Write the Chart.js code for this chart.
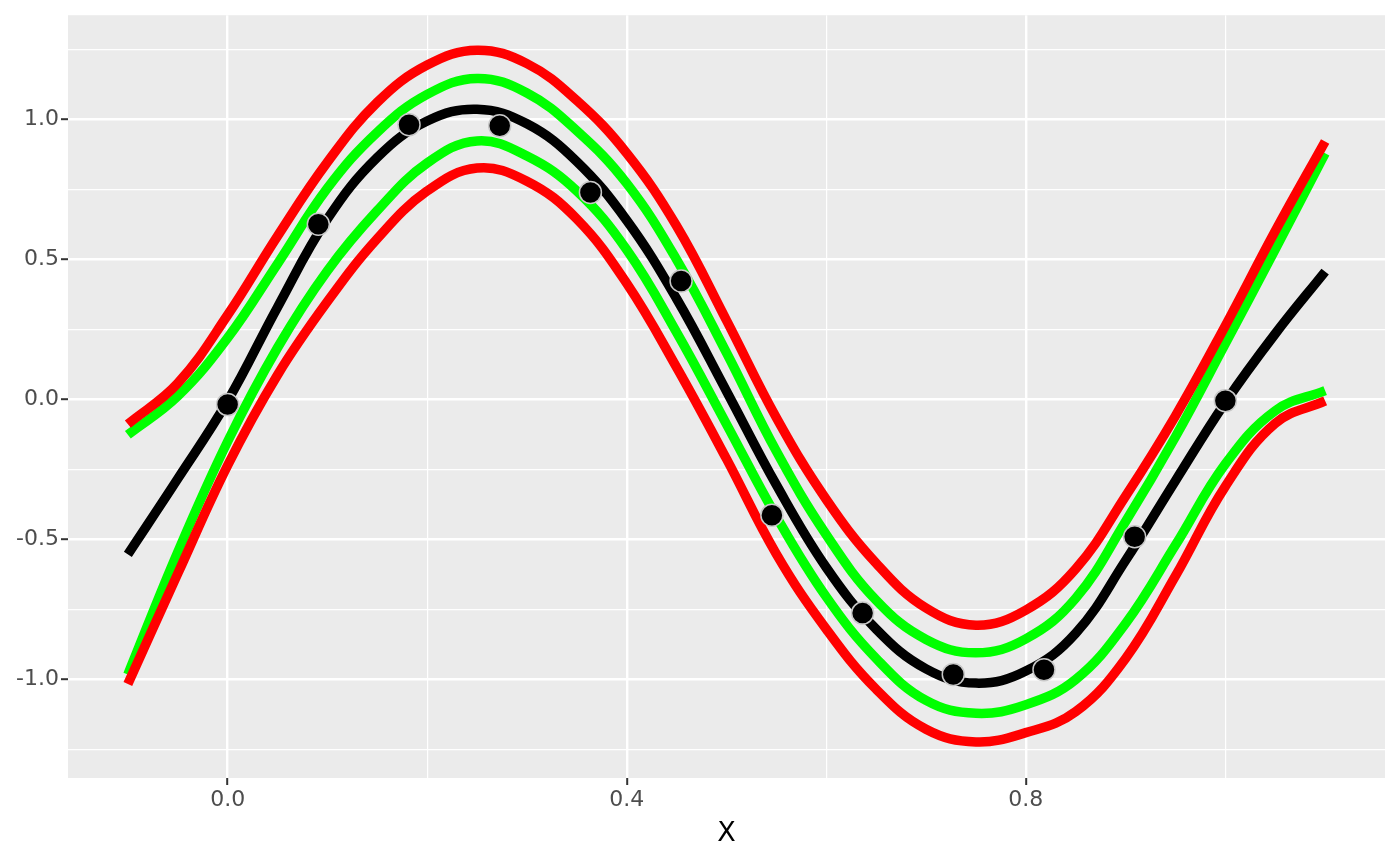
<!DOCTYPE html>
<html>
<head>
<meta charset="utf-8">
<title>Fit with bands</title>
<script src="https://cdn.jsdelivr.net/npm/chart.js@4.4.1/dist/chart.umd.min.js"></script>
<style>
  html, body { margin: 0; padding: 0; background: #ffffff; }
  canvas { display: block; }
</style>
</head>
<body>
<canvas id="fitChart" width="1400" height="866"></canvas>
<script>
// sample positions along the curves
const lineX = [-0.1, -0.05, 0, 0.05, 0.1, 0.15, 0.2, 0.25, 0.3, 0.35, 0.4, 0.45, 0.5,
               0.55, 0.6, 0.65, 0.7, 0.75, 0.8, 0.85, 0.9, 0.95, 1.0, 1.05, 1.1];

// black fitted curve
const fitY = [-0.553, -0.283, -0.005, 0.33, 0.645, 0.865, 0.995, 1.037, 0.985, 0.85, 0.64, 0.36, 0.03,
              -0.305, -0.6, -0.82, -0.962, -1.013, -0.97, -0.835, -0.575, -0.29, -0.01, 0.235, 0.457];

// green band
const greenUpperY = [-0.126, 0.012, 0.22, 0.485, 0.755, 0.955, 1.09, 1.147, 1.095, 0.96, 0.772, 0.5, 0.167,
                     -0.185, -0.483, -0.717, -0.857, -0.905, -0.855, -0.71, -0.436, -0.133, 0.2, 0.537, 0.88];
const greenLowerY = [-0.982, -0.545, -0.15, 0.185, 0.46, 0.675, 0.845, 0.924, 0.87, 0.745, 0.535, 0.24, -0.088,
                     -0.418, -0.705, -0.925, -1.075, -1.121, -1.09, -1.0, -0.8, -0.52, -0.23, -0.04, 0.032];

// red band
const redUpperY = [-0.088, 0.058, 0.302, 0.584, 0.848, 1.062, 1.195, 1.248, 1.2, 1.068, 0.88, 0.62, 0.283,
                   -0.065, -0.357, -0.585, -0.745, -0.806, -0.752, -0.605, -0.345, -0.058, 0.264, 0.602, 0.922];
const redLowerY = [-1.016, -0.622, -0.235, 0.088, 0.35, 0.575, 0.745, 0.827, 0.78, 0.645, 0.415, 0.115, -0.212,
                   -0.552, -0.82, -1.035, -1.178, -1.223, -1.19, -1.115, -0.925, -0.63, -0.31, -0.085, -0.005];

// observations
const pointX = [0, 0.0909, 0.1818, 0.2727, 0.3636, 0.4545, 0.5455, 0.6364, 0.7273, 0.8182, 0.9091, 1.0];
const pointY = [-0.018, 0.626, 0.982, 0.978, 0.74, 0.4235, -0.413, -0.763, -0.982, -0.965, -0.49, -0.004];

// axis breaks
const xMajor = [0, 0.4, 0.8];
const xMinor = [0.2, 0.6, 1.0];
const yMajor = [-1.0, -0.5, 0, 0.5, 1.0];
const yMinor = [-1.25, -0.75, -0.25, 0.25, 0.75, 1.25];

function pairs(xs, ys) {
    return xs.map((x, i) => ({ x: x, y: ys[i] }));
}

function breaks(major, minor) {
    return major.concat(minor).sort((a, b) => a - b).map(v => ({ value: v }));
}

const panelBackground = {
    id: 'panelBackground',
    beforeDraw(chart) {
        const { ctx, chartArea } = chart;
        ctx.save();
        ctx.fillStyle = '#EBEBEB';
        ctx.fillRect(chartArea.left, chartArea.top,
                     chartArea.right - chartArea.left, chartArea.bottom - chartArea.top);
        ctx.restore();
    }
};

function curve(label, ys, color) {
    return {
        label: label,
        data: pairs(lineX, ys),
        borderColor: color,
        borderWidth: 9.5,
        pointRadius: 0,
        fill: false,
        tension: 0.4
    };
}

function gridFor(major) {
    return {
        color: '#FFFFFF',
        lineWidth: ctx => major.includes(ctx.tick.value) ? 2.4 : 1.2,
        tickLength: 7,
        tickWidth: 2,
        tickColor: ctx => major.includes(ctx.tick.value) ? '#333333' : 'rgba(0,0,0,0)'
    };
}

const tickFont = { family: 'DejaVu Sans', size: 22 };

new Chart(document.getElementById('fitChart'), {
    type: 'line',
    data: {
        datasets: [
            {
                label: 'observed',
                data: pairs(pointX, pointY),
                showLine: false,
                pointRadius: 11,
                pointBorderWidth: 1.5,
                pointBackgroundColor: '#000000',
                pointBorderColor: '#C8C8C8'
            },
            curve('fit', fitY, '#000000'),
            curve('red upper', redUpperY, '#FF0000'),
            curve('red lower', redLowerY, '#FF0000'),
            curve('green upper', greenUpperY, '#00FF00'),
            curve('green lower', greenLowerY, '#00FF00')
        ]
    },
    options: {
        responsive: false,
        devicePixelRatio: 1,
        animation: false,
        layout: { padding: { top: 14, right: 15, bottom: 0, left: 0 } },
        plugins: {
            legend: { display: false },
            tooltip: { enabled: false }
        },
        scales: {
            x: {
                type: 'linear',
                min: -0.16,
                max: 1.16,
                afterBuildTicks: scale => { scale.ticks = breaks(xMajor, xMinor); },
                afterFit: scale => { scale.height = 88; },
                border: { display: false },
                grid: gridFor(xMajor),
                ticks: {
                    autoSkip: false,
                    maxRotation: 0,
                    padding: 2,
                    color: '#4D4D4D',
                    font: tickFont,
                    callback: value => xMajor.includes(value) ? value.toFixed(1) : ''
                },
                title: {
                    display: true,
                    text: 'X',
                    color: '#000000',
                    font: { family: 'DejaVu Sans', size: 27 },
                    padding: { top: 0, bottom: 16 }
                }
            },
            y: {
                type: 'linear',
                min: -1.352,
                max: 1.373,
                afterBuildTicks: scale => { scale.ticks = breaks(yMajor, yMinor); },
                afterFit: scale => { scale.width = 68; },
                border: { display: false },
                grid: gridFor(yMajor),
                ticks: {
                    autoSkip: false,
                    padding: 2,
                    color: '#4D4D4D',
                    font: tickFont,
                    callback: value => yMajor.includes(value) ? value.toFixed(1) : ''
                }
            }
        }
    },
    plugins: [panelBackground]
});
</script>
</body>
</html>
